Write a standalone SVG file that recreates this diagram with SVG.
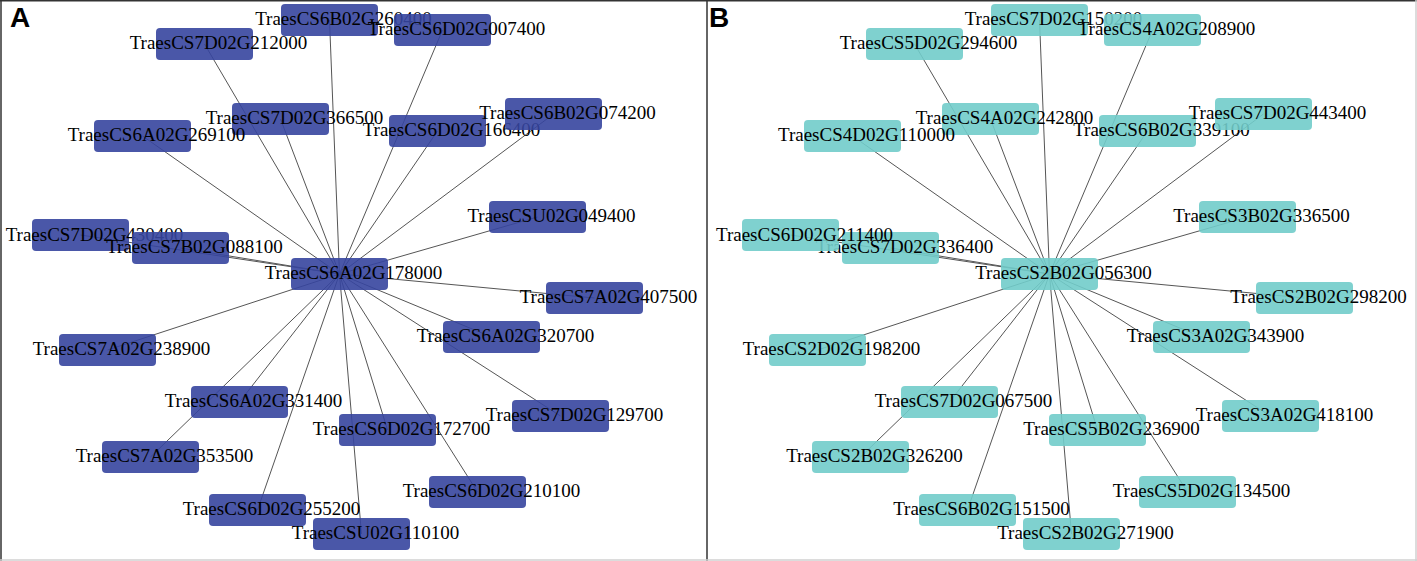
<svg xmlns="http://www.w3.org/2000/svg" width="1417" height="561" viewBox="0 0 1417 561">
<style>
.bg{fill:#ffffff}
.fd{stroke:#333333;stroke-width:1.5}
.fl{stroke:#d0d0d0;stroke-width:1.5}
.pl{font-family:"Liberation Sans",Arial,sans-serif;font-weight:bold;font-size:28px;fill:#000}
.e line{stroke:#555555;stroke-width:1}
.na rect{fill:#36459E;fill-opacity:0.9}
.nb rect{fill:#71CCCA;fill-opacity:0.9}
text.l{font-family:"Liberation Serif","Times New Roman",serif;font-size:19px;fill:#000;text-anchor:middle}
</style>
<rect class="bg" x="0" y="0" width="1417" height="561"/>
<g id="frame">
<line class="fd" x1="0" y1="0.75" x2="1417" y2="0.75"/>
<line class="fd" x1="1" y1="0" x2="1" y2="561"/>
<line class="fd" x1="707" y1="0" x2="707" y2="561"/>
<line class="fl" x1="0" y1="560" x2="1417" y2="560"/>
<line class="fl" x1="1416" y1="0" x2="1416" y2="561"/>
</g>
<text class="pl" x="10" y="27">A</text>
<text class="pl" x="709" y="27">B</text>

<g id="connectors-A" class="e">
<line x1="339.5" y1="274" x2="329.5" y2="20"/>
<line x1="339.5" y1="274" x2="204.5" y2="44"/>
<line x1="339.5" y1="274" x2="442.5" y2="30"/>
<line x1="339.5" y1="274" x2="280.5" y2="119"/>
<line x1="339.5" y1="274" x2="437.5" y2="131"/>
<line x1="339.5" y1="274" x2="553.5" y2="114"/>
<line x1="339.5" y1="274" x2="142.5" y2="136"/>
<line x1="339.5" y1="274" x2="80.5" y2="235"/>
<line x1="339.5" y1="274" x2="180.5" y2="248"/>
<line x1="339.5" y1="274" x2="537.5" y2="217"/>
<line x1="339.5" y1="274" x2="594.5" y2="298"/>
<line x1="339.5" y1="274" x2="107.5" y2="350"/>
<line x1="339.5" y1="274" x2="491.5" y2="337"/>
<line x1="339.5" y1="274" x2="239.5" y2="402"/>
<line x1="339.5" y1="274" x2="560.5" y2="416"/>
<line x1="339.5" y1="274" x2="150.5" y2="457"/>
<line x1="339.5" y1="274" x2="387.5" y2="430"/>
<line x1="339.5" y1="274" x2="257.5" y2="510"/>
<line x1="339.5" y1="274" x2="477.5" y2="492"/>
<line x1="339.5" y1="274" x2="361.5" y2="534"/>
</g>
<g id="connectors-B" class="e">
<line x1="1049.5" y1="274" x2="1039.5" y2="20"/>
<line x1="1049.5" y1="274" x2="914.5" y2="44"/>
<line x1="1049.5" y1="274" x2="1152.5" y2="30"/>
<line x1="1049.5" y1="274" x2="990.5" y2="119"/>
<line x1="1049.5" y1="274" x2="1147.5" y2="131"/>
<line x1="1049.5" y1="274" x2="1263.5" y2="114"/>
<line x1="1049.5" y1="274" x2="852.5" y2="136"/>
<line x1="1049.5" y1="274" x2="790.5" y2="235"/>
<line x1="1049.5" y1="274" x2="890.5" y2="248"/>
<line x1="1049.5" y1="274" x2="1247.5" y2="217"/>
<line x1="1049.5" y1="274" x2="1304.5" y2="298"/>
<line x1="1049.5" y1="274" x2="817.5" y2="350"/>
<line x1="1049.5" y1="274" x2="1201.5" y2="337"/>
<line x1="1049.5" y1="274" x2="949.5" y2="402"/>
<line x1="1049.5" y1="274" x2="1270.5" y2="416"/>
<line x1="1049.5" y1="274" x2="860.5" y2="457"/>
<line x1="1049.5" y1="274" x2="1097.5" y2="430"/>
<line x1="1049.5" y1="274" x2="967.5" y2="510"/>
<line x1="1049.5" y1="274" x2="1187.5" y2="492"/>
<line x1="1049.5" y1="274" x2="1071.5" y2="534"/>
</g>

<g id="nodes-A">
<g id="a-6B02G260400" class="na"><rect x="281" y="4" width="97" height="32" rx="4"/><text class="l" x="343.5" y="24.5">TraesCS6B02G260400</text></g>
<g id="a-7D02G212000" class="na"><rect x="156" y="28" width="97" height="32" rx="4"/><text class="l" x="218.5" y="48.5">TraesCS7D02G212000</text></g>
<g id="a-6D02G007400" class="na"><rect x="394" y="14" width="97" height="32" rx="4"/><text class="l" x="456.5" y="34.5">TraesCS6D02G007400</text></g>
<g id="a-7D02G366500" class="na"><rect x="232" y="103" width="97" height="32" rx="4"/><text class="l" x="294.5" y="123.5">TraesCS7D02G366500</text></g>
<g id="a-6D02G166400" class="na"><rect x="389" y="115" width="97" height="32" rx="4"/><text class="l" x="451.5" y="135.5">TraesCS6D02G166400</text></g>
<g id="a-6B02G074200" class="na"><rect x="505" y="98" width="97" height="32" rx="4"/><text class="l" x="567.5" y="118.5">TraesCS6B02G074200</text></g>
<g id="a-6A02G269100" class="na"><rect x="94" y="120" width="97" height="32" rx="4"/><text class="l" x="156.5" y="140.5">TraesCS6A02G269100</text></g>
<g id="a-7D02G430400" class="na"><rect x="32" y="219" width="97" height="32" rx="4"/><text class="l" x="94.5" y="240.5">TraesCS7D02G430400</text></g>
<g id="a-7B02G088100" class="na"><rect x="132" y="232" width="97" height="32" rx="4"/><text class="l" x="194.5" y="252.5">TraesCS7B02G088100</text></g>
<g id="a-U02G049400" class="na"><rect x="489" y="201" width="97" height="32" rx="4"/><text class="l" x="551.5" y="221.5">TraesCSU02G049400</text></g>
<g id="a-7A02G407500" class="na"><rect x="546" y="282" width="97" height="32" rx="4"/><text class="l" x="608.5" y="302.5">TraesCS7A02G407500</text></g>
<g id="a-7A02G238900" class="na"><rect x="59" y="334" width="97" height="32" rx="4"/><text class="l" x="121.5" y="354.5">TraesCS7A02G238900</text></g>
<g id="a-6A02G320700" class="na"><rect x="443" y="321" width="97" height="32" rx="4"/><text class="l" x="505.5" y="341.5">TraesCS6A02G320700</text></g>
<g id="a-6A02G331400" class="na"><rect x="191" y="386" width="97" height="32" rx="4"/><text class="l" x="253.5" y="406.5">TraesCS6A02G331400</text></g>
<g id="a-7D02G129700" class="na"><rect x="512" y="400" width="97" height="32" rx="4"/><text class="l" x="574.5" y="420.5">TraesCS7D02G129700</text></g>
<g id="a-7A02G353500" class="na"><rect x="102" y="441" width="97" height="32" rx="4"/><text class="l" x="164.5" y="461.5">TraesCS7A02G353500</text></g>
<g id="a-6D02G172700" class="na"><rect x="339" y="414" width="97" height="32" rx="4"/><text class="l" x="401.5" y="434.5">TraesCS6D02G172700</text></g>
<g id="a-6D02G255200" class="na"><rect x="209" y="494" width="97" height="32" rx="4"/><text class="l" x="271.5" y="514.5">TraesCS6D02G255200</text></g>
<g id="a-6D02G210100" class="na"><rect x="429" y="476" width="97" height="32" rx="4"/><text class="l" x="491.5" y="496.5">TraesCS6D02G210100</text></g>
<g id="a-U02G110100" class="na"><rect x="313" y="518" width="97" height="32" rx="4"/><text class="l" x="375.5" y="538.5">TraesCSU02G110100</text></g>
<g id="a-6A02G178000" class="na"><rect x="291" y="258" width="97" height="32" rx="4"/><text class="l" x="353.5" y="278.5">TraesCS6A02G178000</text></g>
</g>

<g id="nodes-B">
<g id="b-7D02G150200" class="nb"><rect x="991" y="4" width="97" height="32" rx="4"/><text class="l" x="1053.5" y="24.5">TraesCS7D02G150200</text></g>
<g id="b-5D02G294600" class="nb"><rect x="866" y="28" width="97" height="32" rx="4"/><text class="l" x="928.5" y="48.5">TraesCS5D02G294600</text></g>
<g id="b-4A02G208900" class="nb"><rect x="1104" y="14" width="97" height="32" rx="4"/><text class="l" x="1166.5" y="34.5">TraesCS4A02G208900</text></g>
<g id="b-4A02G242800" class="nb"><rect x="942" y="103" width="97" height="32" rx="4"/><text class="l" x="1004.5" y="123.5">TraesCS4A02G242800</text></g>
<g id="b-6B02G339100" class="nb"><rect x="1099" y="115" width="97" height="32" rx="4"/><text class="l" x="1161.5" y="135.5">TraesCS6B02G339100</text></g>
<g id="b-7D02G443400" class="nb"><rect x="1215" y="98" width="97" height="32" rx="4"/><text class="l" x="1277.5" y="118.5">TraesCS7D02G443400</text></g>
<g id="b-4D02G110000" class="nb"><rect x="804" y="120" width="97" height="32" rx="4"/><text class="l" x="866.5" y="140.5">TraesCS4D02G110000</text></g>
<g id="b-7D02G336400" class="nb"><rect x="842" y="232" width="97" height="32" rx="4"/><text class="l" x="904.5" y="252.5">TraesCS7D02G336400</text></g>
<g id="b-6D02G211400" class="nb"><rect x="742" y="219" width="97" height="32" rx="4"/><text class="l" x="804.5" y="240.5">TraesCS6D02G211400</text></g>
<g id="b-3B02G336500" class="nb"><rect x="1199" y="201" width="97" height="32" rx="4"/><text class="l" x="1261.5" y="221.5">TraesCS3B02G336500</text></g>
<g id="b-2B02G298200" class="nb"><rect x="1256" y="282" width="97" height="32" rx="4"/><text class="l" x="1318.5" y="302.5">TraesCS2B02G298200</text></g>
<g id="b-2D02G198200" class="nb"><rect x="769" y="334" width="97" height="32" rx="4"/><text class="l" x="831.5" y="354.5">TraesCS2D02G198200</text></g>
<g id="b-3A02G343900" class="nb"><rect x="1153" y="321" width="97" height="32" rx="4"/><text class="l" x="1215.5" y="341.5">TraesCS3A02G343900</text></g>
<g id="b-7D02G067500" class="nb"><rect x="901" y="386" width="97" height="32" rx="4"/><text class="l" x="963.5" y="406.5">TraesCS7D02G067500</text></g>
<g id="b-3A02G418100" class="nb"><rect x="1222" y="400" width="97" height="32" rx="4"/><text class="l" x="1284.5" y="420.5">TraesCS3A02G418100</text></g>
<g id="b-2B02G326200" class="nb"><rect x="812" y="441" width="97" height="32" rx="4"/><text class="l" x="874.5" y="461.5">TraesCS2B02G326200</text></g>
<g id="b-5B02G236900" class="nb"><rect x="1049" y="414" width="97" height="32" rx="4"/><text class="l" x="1111.5" y="434.5">TraesCS5B02G236900</text></g>
<g id="b-6B02G151500" class="nb"><rect x="919" y="494" width="97" height="32" rx="4"/><text class="l" x="981.5" y="514.5">TraesCS6B02G151500</text></g>
<g id="b-5D02G134500" class="nb"><rect x="1139" y="476" width="97" height="32" rx="4"/><text class="l" x="1201.5" y="496.5">TraesCS5D02G134500</text></g>
<g id="b-2B02G271900" class="nb"><rect x="1023" y="518" width="97" height="32" rx="4"/><text class="l" x="1085.5" y="538.5">TraesCS2B02G271900</text></g>
<g id="b-2B02G056300" class="nb"><rect x="1001" y="258" width="97" height="32" rx="4"/><text class="l" x="1063.5" y="278.5">TraesCS2B02G056300</text></g>
</g>
</svg>
